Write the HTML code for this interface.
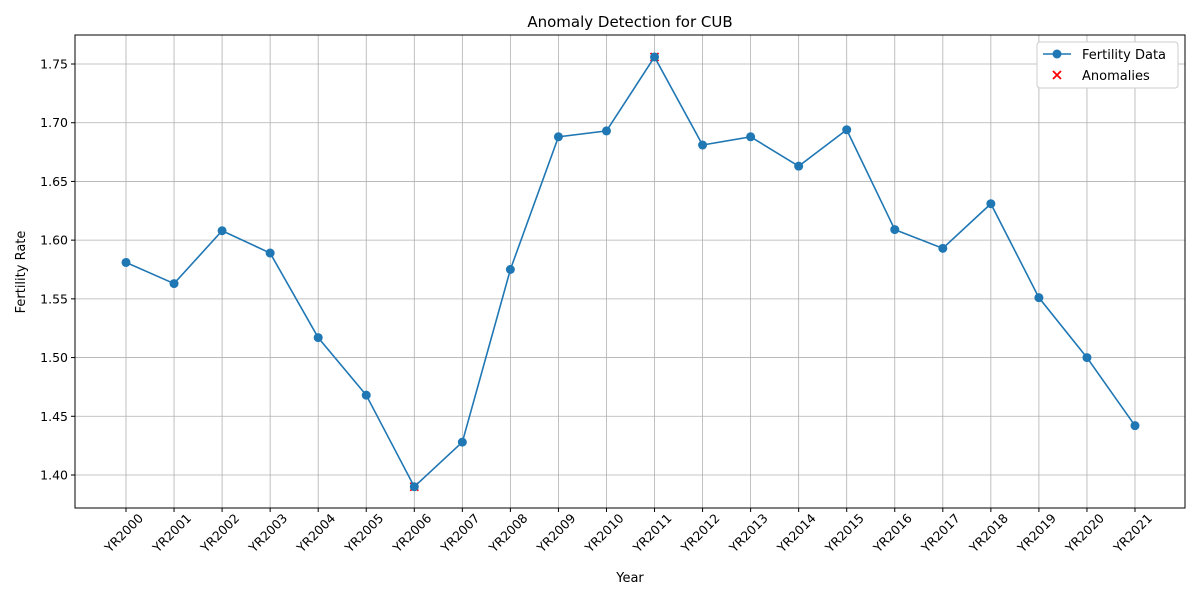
<!DOCTYPE html>
<html><head><meta charset="utf-8"><style>
body{margin:0;background:#fff;}
svg text{font-family:"DejaVu Sans","Liberation Sans",sans-serif;fill:#000;}
</style></head><body>
<svg id="chart" width="1200" height="600">
<rect width="1200" height="600" fill="#fff"/>
<text x="630" y="27" font-size="15" text-anchor="middle">Anomaly Detection for CUB</text>
<g id="grid"></g>
<g id="axes"></g>
<g id="series"></g>
<text x="630" y="582" font-size="13" text-anchor="middle">Year</text>
<text transform="translate(25,272) rotate(-90)" font-size="13" text-anchor="middle">Fertility Rate</text>
<g>
<rect x="1037" y="42" width="141" height="46" fill="#fff" stroke="#ccc" rx="3"/>
<line x1="1043" y1="54" x2="1071" y2="54" stroke="#1f77b4" stroke-width="1.5"/>
<circle cx="1057" cy="54" r="4.5" fill="#1f77b4"/>
<text x="1082" y="59" font-size="13">Fertility Data</text>
<path d="M1053 71 l8 8 M1061 71 l-8 8" stroke="red" stroke-width="1.8"/>
<text x="1082" y="80" font-size="13">Anomalies</text>
</g>
</svg>
<script>
const years=["YR2000","YR2001","YR2002","YR2003","YR2004","YR2005","YR2006","YR2007","YR2008","YR2009","YR2010","YR2011","YR2012","YR2013","YR2014","YR2015","YR2016","YR2017","YR2018","YR2019","YR2020","YR2021"];
const fertility=[1.581,1.563,1.608,1.589,1.517,1.468,1.390,1.428,1.575,1.688,1.693,1.756,1.681,1.688,1.663,1.694,1.609,1.593,1.631,1.551,1.500,1.442];
const anomalyIdx=[6,11];
const yTicks=[1.40,1.45,1.50,1.55,1.60,1.65,1.70,1.75];
const NS="http://www.w3.org/2000/svg";
const L=75,R=1185,T=35,B=508;
const xs=i=>126+i*(1135-126)/(years.length-1);
const ys=v=>475-(v-1.40)/0.35*411;
function mk(t,a,p){const e=document.createElementNS(NS,t);for(const k in a)e.setAttribute(k,a[k]);p.appendChild(e);return e;}
const grid=document.getElementById('grid'),axes=document.getElementById('axes'),ser=document.getElementById('series');
years.forEach((y,i)=>{
 const x=xs(i);
 const g=mk('line',{x1:x,x2:x,y1:T,y2:B,stroke:'#b0b0b0','stroke-width':0.8},grid);
 
 
 mk('line',{x1:x,x2:x,y1:B,y2:B+4,stroke:'#000'},axes);
 const ax=x+18,ay=B+11;
 const t=mk('text',{x:ax,y:ay,'font-size':12.5,'text-anchor':'end',transform:`rotate(-45 ${ax} ${ay})`},axes);
 t.textContent=y;
 
 
});
yTicks.forEach(v=>{
 const y=ys(v);
 const g=mk('line',{x1:L,x2:R,y1:y,y2:y,stroke:'#b0b0b0','stroke-width':0.8},grid);
 
 
 mk('line',{x1:L-4,x2:L,y1:y,y2:y,stroke:'#000'},axes);
 const t=mk('text',{x:L-7,y:y+4.5,'font-size':12.5,'text-anchor':'end'},axes);
 t.textContent=v.toFixed(2);
 
 
});
const frame=mk('rect',{x:L,y:T,width:R-L,height:B-T,fill:'none',stroke:'#000','stroke-width':1},axes);


anomalyIdx.forEach(i=>{
 const x=xs(i),y=ys(fertility[i]);
 const p=mk('path',{d:`M${x-4} ${y-4}L${x+4} ${y+4}M${x+4} ${y-4}L${x-4} ${y+4}`,stroke:'red','stroke-width':1.8},ser);
 
 
});
const line=mk('polyline',{points:fertility.map((v,i)=>xs(i)+','+ys(v)).join(' '),fill:'none',stroke:'#1f77b4','stroke-width':1.6},ser);


fertility.forEach((v,i)=>{
 const c=mk('circle',{cx:xs(i),cy:ys(v),r:4.5,fill:'#1f77b4'},ser);
 
 
});
</script>
</body></html>
